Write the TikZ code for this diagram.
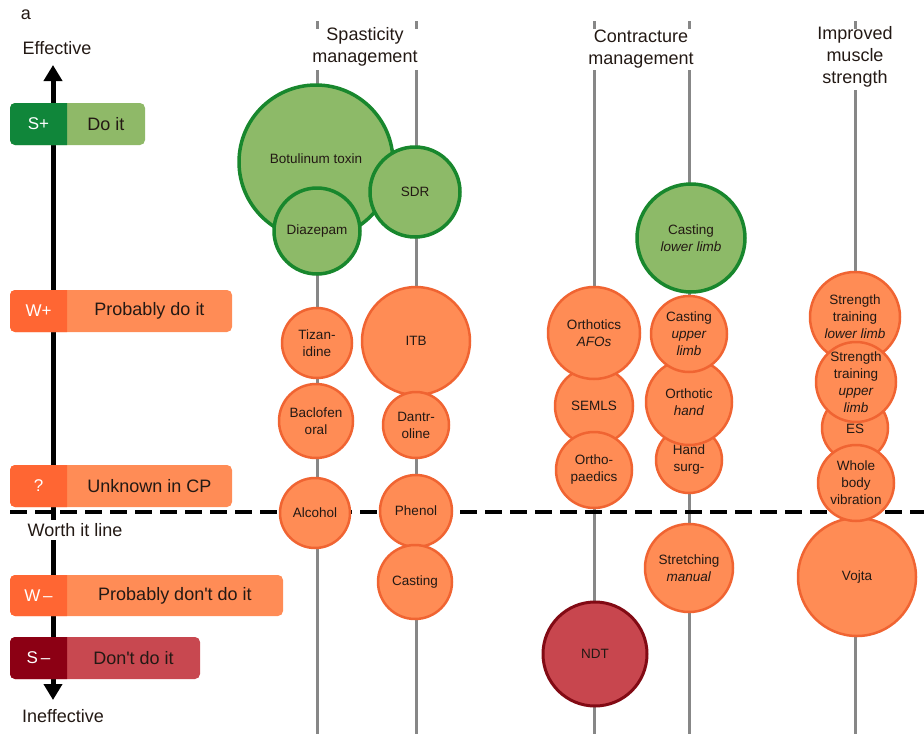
\documentclass[tikz,border=0pt]{standalone}
\usepackage{fontspec}
\setmainfont{Liberation Sans}
\usetikzlibrary{arrows.meta}

\definecolor{ink}{RGB}{35,25,20}
\definecolor{colline}{RGB}{135,135,135}
% legend colours
\definecolor{sPlusDark}{RGB}{16,134,58}
\definecolor{sPlusLight}{RGB}{143,185,104}
\definecolor{wDark}{RGB}{255,102,51}
\definecolor{wLight}{RGB}{255,140,86}
\definecolor{sMinusDark}{RGB}{140,0,20}
\definecolor{sMinusLight}{RGB}{200,72,80}
% bubble colours
\definecolor{gFill}{RGB}{141,186,104}
\definecolor{gLine}{RGB}{24,135,45}
\definecolor{oFill}{RGB}{255,140,85}
\definecolor{oLine}{RGB}{240,100,50}
\definecolor{rFill}{RGB}{200,70,78}
\definecolor{rLine}{RGB}{130,10,20}

\newcommand\legendbox[8]{% name, top, bottom, right, dark, light, tag, label
  \fill[#6, rounded corners=5pt] (10,#2) rectangle (#4,#3);
  \begin{scope}
    \clip (10,#2) rectangle (67,#3);
    \fill[#5, rounded corners=5pt] (10,#2) rectangle (#4,#3);
  \end{scope}
  \node[tagtext] (#1tag) at (38.5,{(#2+#3)/2}) {#7};
  \node[legtext] (#1lab) at ({(67+#4)/2},{(#2+#3)/2}) {#8};
}

\begin{document}
\begin{tikzpicture}[x=1pt,y=-1pt,
  colstroke/.style={draw=colline, line width=3pt},
  worth/.style={draw=black, line width=4pt, dash pattern=on 17pt off 8pt},
  axis/.style={draw=black, line width=5pt, {Triangle[width=18pt,length=16pt]}-{Triangle[width=18pt,length=16pt]}},
  lbl/.style={font=\fontsize{18}{21}\selectfont, text=ink, inner sep=0pt},
  title/.style={lbl, align=center, font=\fontsize{18}{22}\selectfont},
  tagtext/.style={font=\fontsize{17}{20}\selectfont, text=white, inner sep=0pt},
  legtext/.style={font=\fontsize{18}{21}\selectfont, text=ink, inner sep=0pt},
  bub/.style={circle, inner sep=0pt, align=center, text=ink,
    font=\fontsize{13.5}{17}\selectfont, minimum size=#1},
  green/.style={bub=#1, fill=gFill, draw=gLine, line width=3.5pt},
  orange/.style={bub=#1, fill=oFill, draw=oLine, line width=2.5pt},
  red/.style={bub=#1, fill=rFill, draw=rLine, line width=3pt},
]
\useasboundingbox (0,0) rectangle (924,734);

% treatment columns
\foreach \x/\s in {317/70, 416/70, 594/70, 689/70, 855/90} {
  \draw[colstroke] (\x,21) -- (\x,29);
  \draw[colstroke] (\x,\s) -- (\x,734);
}

% column headings
\node[title] (spast) at (365,47) {Spasticity\\management};
\node[title] (contr) at (641,49) {Contracture\\management};
\node[title] (muscle) at (855,57) {Improved\\muscle\\strength};

% worth-it line
\coordinate (wl) at (10,512);
\coordinate (wr) at (924,512);
\draw[worth] (wl) -- (wr);

% effectiveness axis
\node[lbl] (panel) at (26,15) {a};
\node[lbl] (eff) at (57,48) {Effective};
\node[lbl] (ineff) at (63,716) {Ineffective};
\coordinate (axtop) at (53,65);
\coordinate (axbot) at (53,700);
\draw[axis] (axbot) -- (axtop);
\node[lbl, fill=white, inner xsep=3pt, inner ysep=3pt] (worthlbl) at (75,530) {Worth it line};

% recommendation legend
\legendbox{splus}{103}{145}{145}{sPlusDark}{sPlusLight}{S+}{Do it}
\legendbox{wplus}{290}{332}{232}{wDark}{wLight}{W+}{Probably do it}
\legendbox{unk}{465}{507}{232}{wDark}{wLight}{?}{Unknown in CP}
\legendbox{wminus}{575}{616}{283}{wDark}{wLight}{W\,--}{Probably don\textquotesingle t do it}
\legendbox{sminus}{637}{679}{200}{sMinusDark}{sMinusLight}{S\,--}{Don\textquotesingle t do it}

% spasticity management
\node[green=154pt] (botox) at (316,162) {\raisebox{7pt}{Botulinum toxin}};
\node[green=86pt] (diaz) at (317,231) {Diazepam};
\node[green=90pt] (sdr) at (415,192) {SDR};
\node[orange=70pt] (tiz) at (317,343) {Tizan-\\idine};
\node[orange=74pt] (bacl) at (316,421) {Baclofen\\oral};
\node[orange=70pt] (alc) at (315,513) {Alcohol};
\node[orange=108pt] (itb) at (416,341) {ITB};
\node[orange=66pt] (dant) at (416,425) {Dantr-\\oline};
\node[orange=72pt] (phen) at (416,511) {Phenol};
\node[orange=74pt] (castsp) at (415,582) {Casting};

% contracture management
\node[green=108pt] (castll) at (691,238) {Casting\\\textit{lower limb}};
\node[orange=78pt] (semls) at (594,406) {SEMLS};
\node[orange=92pt] (afo) at (594,333) {Orthotics\\\textit{AFOs}};
\node[orange=76pt] (ortho) at (594,470) {Ortho-\\paedics};
\node[orange=66pt] (hand) at (689,460) {Hand\\surg-};
\node[orange=86pt] (orthand) at (689,402) {Orthotic\\\textit{hand}};
\node[orange=76pt] (castul) at (689,334) {Casting\\\textit{upper}\\\textit{limb}};
\node[orange=88pt] (stretch) at (689,568) {Stretching\\\textit{manual}};
\node[red=104pt] (ndt) at (595,654) {NDT};

% improved muscle strength
\node[orange=90pt] (stll) at (855,317) {Strength\\training\\\textit{lower limb}};
\node[orange=66pt] (es) at (855,428) {\raisebox{-11pt}{ES}};
\node[orange=80pt] (stul) at (856,382) {Strength\\training\\\textit{upper}\\\textit{limb}};
\node[orange=118pt] (vojta) at (857,577) {Vojta};
\node[orange=76pt] (wbv) at (856,483) {Whole\\body\\vibration};
\end{tikzpicture}
\end{document}
